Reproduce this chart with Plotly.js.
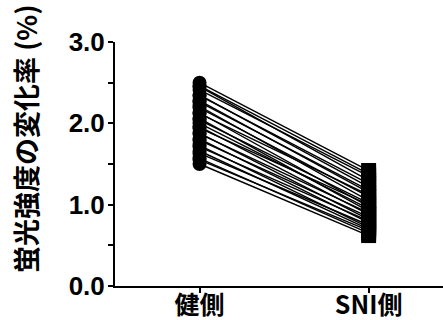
<!DOCTYPE html>
<html>
<head>
<meta charset="utf-8">
<script src="https://cdn.plot.ly/plotly-3.0.1.min.js"></script>
<style>html,body{margin:0;padding:0;background:#fff;}#chart{width:443px;height:320px;}</style>
</head>
<body>
<div id="chart"></div>
<script>
const categories = ['健側', 'SNI側'];
const healthy = [2.50, 2.46, 2.45, 2.41, 2.35, 2.34, 2.28, 2.26, 2.21, 2.19, 2.13, 2.12, 2.06, 2.04, 2.00, 1.96, 1.94, 1.88, 1.87, 1.81, 1.79, 1.73, 1.71, 1.66, 1.63, 1.57, 1.55, 1.50];
const sni     = [1.42, 1.38, 1.30, 1.35, 1.22, 1.26, 1.15, 1.18, 1.05, 1.10, 0.98, 1.12, 0.92, 1.02, 0.95, 0.88, 1.00, 0.82, 0.90, 0.78, 0.85, 0.72, 0.80, 0.70, 0.75, 0.65, 0.68, 0.62];
const yTickVals = [0, 0.5, 1, 1.5, 2, 2.5, 3];
const yTickText = ['0.0', '', '1.0', '', '2.0', '', '3.0'];
const yTitle = '蛍光強度の変化率 (%)';

const lx = [], ly = [];
for (let i = 0; i < healthy.length; i++) {
  lx.push(categories[0], categories[1], null);
  ly.push(healthy[i], sni[i], null);
}
const fontFam = '"Liberation Sans", Arial, "Noto Sans CJK JP", sans-serif';
const cjkFam = '"Noto Sans CJK JP", "Liberation Sans", sans-serif';
const traces = [
  {x: lx, y: ly, mode: 'lines', line: {color: '#000', width: 1.4}, connectgaps: false, hoverinfo: 'skip', cliponaxis: false},
  {x: healthy.map(() => categories[0]), y: healthy, mode: 'markers', marker: {symbol: 'circle', size: 14, color: '#000'}, cliponaxis: false},
  {x: sni.map(() => categories[1]), y: sni, mode: 'markers', marker: {symbol: 'square', size: 15, color: '#000'}, cliponaxis: false}
];
const layout = {
  width: 443, height: 320,
  margin: {l: 115, r: 0, t: 42, b: 34},
  paper_bgcolor: '#fff', plot_bgcolor: '#fff',
  showlegend: false,
  font: {family: fontFam, color: '#000'},
  xaxis: {
    type: 'category', categoryorder: 'array', categoryarray: categories,
    range: [-0.5, 1.44],
    showline: true, linewidth: 2, linecolor: '#000',
    ticks: 'outside', ticklen: 5, tickwidth: 2, tickcolor: '#000',
    showgrid: false, zeroline: false,
    ticklabelstandoff: -9,
    tickfont: {family: cjkFam, size: 25, weight: 'bold', color: '#000'}
  },
  yaxis: {
    range: [0, 3],
    showline: true, linewidth: 2, linecolor: '#000',
    ticks: 'outside', ticklen: 5, tickwidth: 2, tickcolor: '#000',
    tickvals: yTickVals, ticktext: yTickText,
    showgrid: false, zeroline: false,
    ticklabelstandoff: -2,
    tickfont: {family: fontFam, size: 26, weight: 'bold', color: '#000'}
  },
  annotations: [{
    text: yTitle, xref: 'paper', yref: 'paper', x: -0.2713, y: 0.6025,
    xanchor: 'center', yanchor: 'middle', textangle: -90, showarrow: false,
    font: {family: cjkFam, size: 27, weight: 'bold', color: '#000'}
  }]
};
Plotly.newPlot('chart', traces, layout, {displayModeBar: false, staticPlot: true});
</script>
</body>
</html>
